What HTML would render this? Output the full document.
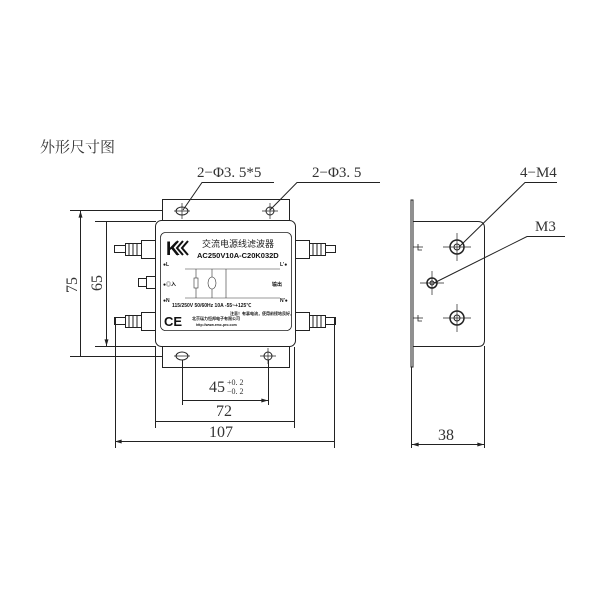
<!DOCTYPE html>
<html><head><meta charset="utf-8"><style>
html,body{margin:0;padding:0;background:#fff;}
svg{display:block;}
.s{font-family:"Liberation Serif","Noto Serif CJK SC",serif;fill:#333;}
.a{font-family:"Liberation Sans","Noto Sans CJK SC",sans-serif;fill:#111;font-weight:bold;}
</style></head><body>
<svg width="600" height="600" viewBox="0 0 600 600" xmlns="http://www.w3.org/2000/svg">
<defs>
<marker id="ar" viewBox="0 0 10 6" refX="10" refY="3" markerWidth="8" markerHeight="4" orient="auto-start-reverse"><path d="M0,0L10,3L0,6z" fill="#222"/></marker>
</defs>
<text x="40" y="152" class="s" font-size="15" font-family="Noto Serif CJK SC,serif">外形尺寸图</text>
<g stroke="#222" stroke-width="1" fill="none">
<!-- flanges -->
<rect x="162.5" y="199.5" width="127" height="22"/>
<rect x="162.5" y="346.5" width="127" height="21"/>
<!-- body -->
<rect x="155.5" y="220.5" width="140" height="126" rx="6" fill="#fff"/>
<rect x="160.5" y="232.5" width="131" height="98" rx="5" stroke-width="0.8"/>
<!-- holes -->
<ellipse cx="182" cy="211" rx="6" ry="4"/><ellipse cx="270" cy="211" rx="4" ry="4"/>
<ellipse cx="182" cy="356" rx="6" ry="4"/><ellipse cx="268" cy="356" rx="4" ry="4"/>
<path d="M174,211h16M182,203v16M262,211h16M270,203v16M174,356h16M268,348v16M260,356h16" stroke-width="0.7"/>
<!-- left terminals -->
<g id="tl">
<rect x="141.5" y="240.5" width="14" height="18"/>
<rect x="125.5" y="243.5" width="16" height="12"/>
<path d="M129,243v12M133,243v12M137,243v12"/>
<rect x="114.5" y="245.5" width="11" height="7"/>
</g>
<use href="#tl" y="72"/>
<rect x="146.5" y="276.5" width="9" height="12"/><rect x="138.5" y="278.5" width="8" height="8"/>
<!-- right terminals -->
<g id="tr">
<rect x="295.5" y="240.5" width="14" height="18"/>
<rect x="309.5" y="243.5" width="16" height="12"/>
<path d="M313,243v12M317,243v12M321,243v12"/>
<rect x="325.5" y="245.5" width="10" height="7"/>
</g>
<use href="#tr" y="72"/>
<!-- extension lines -->
<path d="M70,210.5H163M95,221.5H156M70,356.5H163M95,346.5H156"/>
<path d="M115.5,318V448M334.5,318V448M155.5,347V428M294.5,347V428M182.5,360V405M268.5,360V405"/>
<!-- dim lines -->
<path d="M80.5,211V356M106.5,221V346" marker-start="url(#ar)" marker-end="url(#ar)"/>
<path d="M115,441.5H334M155,421.5H294M182,400.5H268" marker-start="url(#ar)" marker-end="url(#ar)"/>
<!-- leaders -->
<path d="M183,210L202,182.5H274M270,210L297,182.5H380"/>
<!-- side view -->
<rect x="411" y="200" width="2" height="167" fill="#fff"/>
<path d="M413,221.5H478Q484.5,221.5 484.5,228V340Q484.5,346.5 478,346.5H413"/>
<path d="M411.5,367V448M484.5,346V448"/>
<path d="M412,444.5H484" marker-start="url(#ar)" marker-end="url(#ar)"/>
<circle cx="457" cy="247" r="7" stroke-width="1.5"/><circle cx="457" cy="247" r="3"/>
<circle cx="457" cy="318" r="7" stroke-width="1.5"/><circle cx="457" cy="318" r="3"/>
<circle cx="432" cy="283" r="5" stroke-width="1.5"/><circle cx="432" cy="283" r="2"/>
<path d="M443,247h28M457,233v28M443,318h28M457,304v28M420,283h24M432,271v24M413,247h10M413,318h10" stroke-width="0.7"/>
<path d="M418,244v6h4M418,315v6h4" stroke-width="0.8"/>
<path d="M459,247L525,182.5H557M434,283L527,236.5H565"/>
</g>
<!-- label content -->
<g>
<text x="166" y="255" class="a" font-size="19">K</text>
<path d="M178,241l-6,7 6,7M183,241l-6,7 6,7M188,241l-6,7 6,7" stroke="#111" stroke-width="2" fill="none"/>
<text x="202" y="247" font-size="9" font-family="Noto Sans CJK SC,sans-serif" fill="#222">交流电源线滤波器</text>
<text x="197" y="258" class="a" font-size="7.5">AC250V10A-C20K032D</text>
<text x="163" y="266" class="a" font-size="5">●L</text><text x="280" y="266" class="a" font-size="5">L'●</text>
<text x="163" y="286" class="a" font-size="5">●◎入</text><text x="272" y="286" class="a" font-size="5">输出</text>
<text x="163" y="302" class="a" font-size="5">●N</text><text x="280" y="302" class="a" font-size="5">N'●</text>
<g stroke="#333" stroke-width="0.6" fill="none">
<path d="M185,269H280M185,298H280M196,269V298M212,269V298M226,269V298"/>
<rect x="194" y="278" width="4" height="10" fill="#fff"/>
<ellipse cx="212" cy="283" rx="4" ry="6" fill="#fff"/>
</g>
<text x="172" y="307" class="a" font-size="5">115/250V   50/60Hz   10A   -55~+125℃</text>
<text x="230" y="315" class="a" font-size="4">注意！有暴电流，使用前接地良好。</text>
<text x="164" y="326" class="a" font-size="13">CE</text>
<text x="192" y="320" class="a" font-size="4">北京瑞力恒邦电子有限公司</text>
<text x="196" y="326" class="a" font-size="3.5">http://www.emc-pro.com</text>
</g>
<!-- dimension texts -->
<text x="197" y="177" class="s" font-size="15">2−Φ3. 5*5</text>
<text x="312" y="177" class="s" font-size="15">2−Φ3. 5</text>
<text x="520" y="177" class="s" font-size="15">4−M4</text>
<text x="535" y="231" class="s" font-size="15">M3</text>
<text x="209" y="392" class="s" font-size="16">45</text>
<text x="227" y="385" class="s" font-size="8">+0. 2</text>
<text x="227" y="394" class="s" font-size="8">−0. 2</text>
<text x="216" y="416" class="s" font-size="16">72</text>
<text x="209" y="437" class="s" font-size="16">107</text>
<text x="438" y="440" class="s" font-size="16">38</text>
<text transform="translate(77,293) rotate(-90)" class="s" font-size="16">75</text>
<text transform="translate(102,291) rotate(-90)" class="s" font-size="16">65</text>
</svg>
</body></html>
